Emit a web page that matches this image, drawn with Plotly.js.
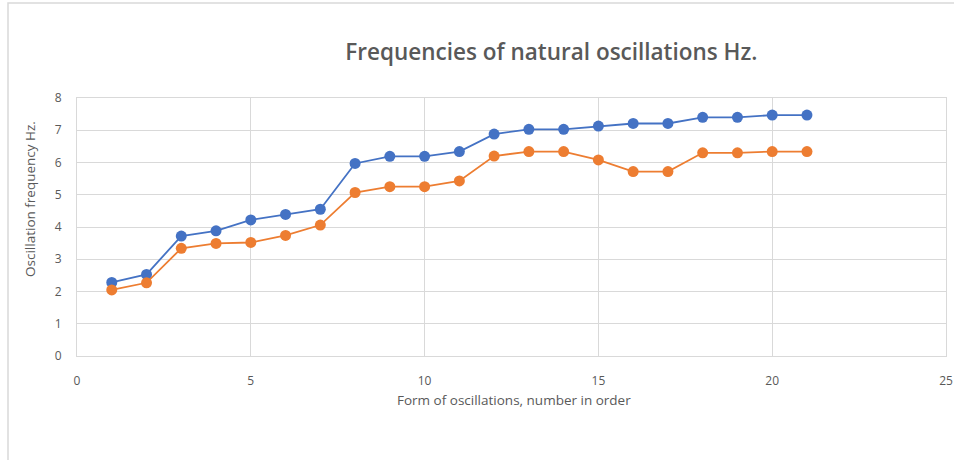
<!DOCTYPE html>
<html>
<head>
<meta charset="utf-8">
<script src="https://cdn.plot.ly/plotly-3.0.1.min.js"></script>
<style>html,body{margin:0;padding:0;background:#fff;}#chart{width:954px;height:460px;}</style>
</head>
<body>
<div id="chart"></div>
<script>
const modeNumbers = [1,2,3,4,5,6,7,8,9,10,11,12,13,14,15,16,17,18,19,20,21];
const seriesBlue = [2.28,2.53,3.72,3.88,4.22,4.39,4.55,5.97,6.19,6.19,6.34,6.88,7.03,7.03,7.13,7.21,7.21,7.40,7.40,7.47,7.47];
const seriesOrange = [2.05,2.27,3.34,3.49,3.52,3.74,4.06,5.07,5.25,5.25,5.43,6.20,6.34,6.34,6.08,5.72,5.72,6.30,6.30,6.34,6.34];
const xTicks = [0,5,10,15,20,25];
const yTicks = [0,1,2,3,4,5,6,7,8];
const titleText = 'Frequencies of natural oscillations Hz.';
const xTitleText = 'Form of oscillations, number in order';
const yTitleText = 'Oscillation frequency Hz.';

const FONT = '"Open Sans", Lato, sans-serif';
const GREY = '#595959';
const GRID = '#d9d9d9';

const traces = [
  {x: modeNumbers, y: seriesBlue, mode: 'lines+markers', type: 'scatter',
   line: {color: '#4472C4', width: 1.8}, marker: {color: '#4472C4', size: 11}},
  {x: modeNumbers, y: seriesOrange, mode: 'lines+markers', type: 'scatter',
   line: {color: '#ED7D31', width: 1.8}, marker: {color: '#ED7D31', size: 11}}
];

const layout = {
  width: 954, height: 460,
  margin: {l: 77, r: 8, t: 98, b: 104},
  paper_bgcolor: '#fff', plot_bgcolor: '#fff',
  showlegend: false,
  font: {family: FONT, color: GREY, size: 12},
  title: {text: titleText, font: {family: FONT, size: 22.5, color: GREY, weight: 600},
          xref: 'container', yref: 'container', x: 0.578, xanchor: 'center', y: 0.887, yanchor: 'middle'},
  xaxis: {range: [0, 25], tickvals: xTicks, ticktext: xTicks.map(String), showgrid: true, gridcolor: GRID, gridwidth: 1,
          zeroline: false, showline: true, mirror: true, linecolor: GRID, linewidth: 1,
          ticks: '', tickfont: {size: 12, color: GREY}, ticklabelstandoff: 14},
  yaxis: {range: [0, 8], tickvals: yTicks, ticktext: yTicks.map(String), showgrid: true, gridcolor: GRID, gridwidth: 1,
          zeroline: false, showline: true, mirror: true, linecolor: GRID, linewidth: 1,
          ticks: '', tickfont: {size: 12, color: GREY}, ticklabelstandoff: 12},
  annotations: [
    {text: yTitleText, xref: 'paper', yref: 'paper', x: -0.054, y: 0.609, textangle: -90, showarrow: false,
     xanchor: 'center', yanchor: 'middle', font: {family: FONT, size: 13.5, color: GREY}},
    {text: xTitleText, xref: 'paper', yref: 'paper', x: 0.503, y: -0.171, showarrow: false,
     xanchor: 'center', yanchor: 'middle', font: {family: FONT, size: 13.5, color: GREY}}
  ],
  shapes: [
    {type: 'rect', xref: 'paper', yref: 'paper', x0: -0.0794, x1: 1.05, y0: -0.5, y1: 1.368,
     line: {color: GRID, width: 1.5}, fillcolor: 'rgba(0,0,0,0)', layer: 'below'}
  ]
};

Plotly.newPlot('chart', traces, layout, {displayModeBar: false, staticPlot: true});
</script>
</body>
</html>
